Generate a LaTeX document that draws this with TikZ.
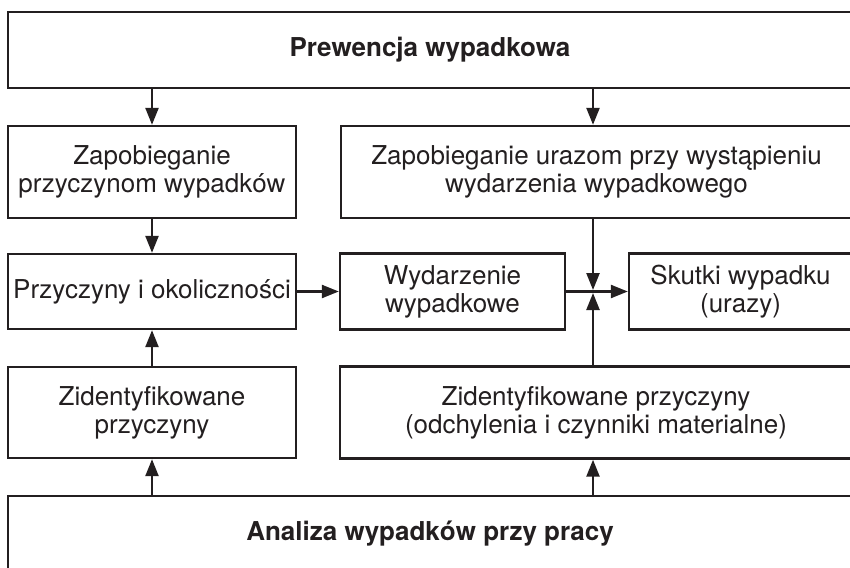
\documentclass[tikz,border=0pt]{standalone}
\usepackage{fontspec}
\setmainfont{TeX Gyre Heros}
\usetikzlibrary{arrows.meta}
\definecolor{ink}{HTML}{231F20}
\begin{document}
\begin{tikzpicture}[x=1pt,y=-1pt,
  box/.style={draw=ink, line width=2.4pt, text=ink, inner sep=0pt, align=center,
    font=\fontsize{26}{28}\selectfont},
  arr/.style={draw=ink, line width=2.4pt, -{Triangle[length=17pt,width=13pt]}}]
\useasboundingbox (0,0) rectangle (850,567);
\clip (0,0) rectangle (850,567);
% boxes (pixel-like coordinates, y downward)
\node[box, minimum width=844pt, minimum height=76pt, font=\fontsize{26}{28}\selectfont\bfseries]
  (prew) at (430,50) {Prewencja wypadkowa};
\node[box, minimum width=288pt, minimum height=92pt] (zap1) at (152,172)
  {Zapobieganie\\przyczynom wypadków};
\node[box, minimum width=511pt, minimum height=92pt] (zap2) at (596.5,172)
  {Zapobieganie urazom przy wystąpieniu\\wydarzenia wypadkowego};
\node[box, minimum width=288pt, minimum height=75pt] (przy) at (152,291.5)
  {Przyczyny i okoliczności};
\node[box, minimum width=225pt, minimum height=76pt] (wyd) at (452.5,291.5)
  {Wydarzenie\\wypadkowe};
\node[box, minimum width=223pt, minimum height=76pt] (skut) at (740.5,291.5)
  {Skutki wypadku\\(urazy)};
\node[box, minimum width=288pt, minimum height=91pt] (zid1) at (152,412.5)
  {Zidentyfikowane\\przyczyny};
\node[box, minimum width=512pt, minimum height=92pt] (zid2) at (596,412.5)
  {Zidentyfikowane przyczyny\\(odchylenia i czynniki materialne)};
\node[box, minimum width=844pt, minimum height=76pt, font=\fontsize{26}{28}\selectfont\bfseries]
  (anal) at (430,534) {Analiza wypadków przy pracy};
% junction where the three flows meet
\coordinate (J) at (593,291.5);
% connectors
\draw[arr] (prew.south -| zap1.north) -- (zap1.north);
\draw[arr] (prew.south -| J) -- (zap2.north -| J);
\draw[arr] (zap1.south) -- (przy.north);
\draw[arr] (przy.east) -- (wyd.west);
\draw[arr] (wyd.east) -- (skut.west);
\draw[arr, shorten >=1.5pt] (zap2.south -| J) -- (J);
\draw[arr, shorten >=1.5pt] (zid2.north -| J) -- (J);
\draw[arr] (zid1.north) -- (przy.south);
\draw[arr] (anal.north -| zid1.south) -- (zid1.south);
\draw[arr] (anal.north -| J) -- (zid2.south -| J);
\end{tikzpicture}
\end{document}
